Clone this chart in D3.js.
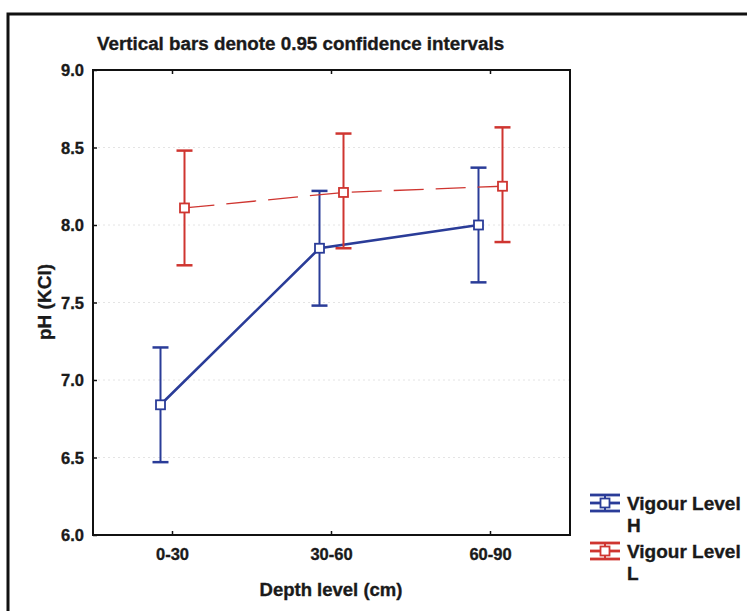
<!DOCTYPE html>
<html>
<head>
<meta charset="utf-8">
<script src="https://cdn.jsdelivr.net/npm/d3@7"></script>
<style>
  html, body { margin: 0; padding: 0; background: #fff; }
  svg { display: block; }
  text { font-family: "Liberation Sans", Arial, sans-serif; font-weight: bold; fill: #1a1a1a; stroke: #1a1a1a; stroke-width: 0.35px; }
</style>
</head>
<body>
<svg id="chart" width="747" height="611"></svg>
<script>
// Depth categories and the two vigour groups
const depths = ["0-30", "30-60", "60-90"];
const groups = ["H", "L"];

// Mean pH (KCl) per depth with 0.95 confidence limits
const meanH  = [6.84, 7.85, 8.00];
const lowerH = [6.47, 7.48, 7.63];
const upperH = [7.21, 8.22, 8.37];

const meanL  = [8.11, 8.21, 8.25];
const lowerL = [7.74, 7.85, 7.89];
const upperL = [8.48, 8.59, 8.63];

const yTicks = [6.0, 6.5, 7.0, 7.5, 8.0, 8.5, 9.0];

const series = [
  { key: groups[0], color: "#2a3c98", mean: meanH, lo: lowerH, hi: upperH, offset: -12, width: 2.6, dash: null },
  { key: groups[1], color: "#cf3530", mean: meanL, lo: lowerL, hi: upperL, offset: 12, width: 1.3, dash: "30,12" }
];

const svg = d3.select("#chart");

// Outer frame (top and left rules)
svg.append("path")
  .attr("d", "M8,611 L8,14 L747,14")
  .attr("fill", "none").attr("stroke", "#111").attr("stroke-width", 3);

const plot = { left: 93, right: 570, top: 70, bottom: 535 };

const x = d3.scaleBand().domain(depths).range([plot.left, plot.right]);
const y = d3.scaleLinear().domain([6, 9]).range([plot.bottom, plot.top]);
const cx = d => x(d) + x.bandwidth() / 2;

// Faint dotted grid
svg.append("g").selectAll("line")
  .data(yTicks.filter(t => t > 6 && t < 9))
  .join("line")
  .attr("x1", plot.left).attr("x2", plot.right)
  .attr("y1", d => y(d)).attr("y2", d => y(d))
  .attr("stroke", "#e4e4e4").attr("stroke-width", 1).attr("stroke-dasharray", "2,3");

// Axes with inward ticks
const yAxis = d3.axisLeft(y).tickValues(yTicks).tickFormat(d3.format(".1f")).tickSizeInner(-4).tickSizeOuter(0).tickPadding(9);
const gy = svg.append("g").attr("transform", `translate(${plot.left},0)`).call(yAxis);
gy.select(".domain").remove();
gy.selectAll("line").attr("stroke", "#111").attr("stroke-width", 1.5);
gy.selectAll("text").style("font-size", "16.5px").style("fill", "#1a1a1a").attr("dy", "0.35em");

const xAxis = d3.axisBottom(x).tickSizeInner(-4).tickSizeOuter(0).tickPadding(13);
const gx = svg.append("g").attr("transform", `translate(0,${plot.bottom})`).call(xAxis);
gx.select(".domain").remove();
gx.selectAll("line").attr("stroke", "#111").attr("stroke-width", 1.5);
gx.selectAll("text").style("font-size", "16.5px").style("fill", "#1a1a1a");

const gxTop = svg.append("g").attr("transform", `translate(0,${plot.top})`)
  .call(d3.axisTop(x).tickSizeInner(-4).tickSizeOuter(0).tickFormat(""));
gxTop.select(".domain").remove();
gxTop.selectAll("line").attr("stroke", "#111").attr("stroke-width", 1.5);

// Plot border
svg.append("rect")
  .attr("x", plot.left).attr("y", plot.top)
  .attr("width", plot.right - plot.left).attr("height", plot.bottom - plot.top)
  .attr("fill", "none").attr("stroke", "#111").attr("stroke-width", 2);

// Series: connecting line, error bars, markers
const capW = 8;
series.forEach(s => {
  const px = i => cx(depths[i]) + s.offset;
  const g = svg.append("g");

  g.append("path")
    .datum(depths.map((d, i) => i))
    .attr("d", d3.line().x(i => px(i)).y(i => y(s.mean[i])))
    .attr("fill", "none").attr("stroke", s.color).attr("stroke-width", s.width)
    .attr("stroke-dasharray", s.dash);

  const bars = g.selectAll(".bar").data(depths.map((d, i) => i)).join("g");
  bars.append("line")
    .attr("x1", i => px(i)).attr("x2", i => px(i))
    .attr("y1", i => y(s.lo[i])).attr("y2", i => y(s.hi[i]))
    .attr("stroke", s.color).attr("stroke-width", 2);
  ["lo", "hi"].forEach(k => {
    bars.append("line")
      .attr("x1", i => px(i) - capW).attr("x2", i => px(i) + capW)
      .attr("y1", i => y(s[k][i])).attr("y2", i => y(s[k][i]))
      .attr("stroke", s.color).attr("stroke-width", 2.5);
  });
  bars.append("rect")
    .attr("x", i => px(i) - 4.5).attr("y", i => y(s.mean[i]) - 4.5)
    .attr("width", 9).attr("height", 9)
    .attr("fill", "#fff").attr("stroke", s.color).attr("stroke-width", 1.8);
});

// Titles
svg.append("text").attr("x", 97).attr("y", 50)
  .style("font-size", "18.8px").text("Vertical bars denote 0.95 confidence intervals");

svg.append("text").attr("x", 331).attr("y", 596).attr("text-anchor", "middle")
  .style("font-size", "18.5px").text("Depth level (cm)");

svg.append("text").attr("transform", "translate(51,302) rotate(-90)").attr("text-anchor", "middle")
  .style("font-size", "19px").text("pH (KCl)");

// Legend
const legend = svg.append("g");
series.forEach((s, k) => {
  const ly = 503 + k * 48;
  const lg = legend.append("g").attr("transform", `translate(605,${ly})`);
  [-8, 0, 8].forEach(dy => {
    lg.append("line").attr("x1", -15).attr("x2", 15)
      .attr("y1", dy).attr("y2", dy).attr("stroke", s.color).attr("stroke-width", 2.8);
  });
  lg.append("line").attr("x1", 0).attr("x2", 0).attr("y1", -8).attr("y2", 8)
    .attr("stroke", s.color).attr("stroke-width", 2);
  lg.append("rect").attr("x", -4.5).attr("y", -4.5).attr("width", 9).attr("height", 9)
    .attr("fill", "#fff").attr("stroke", s.color).attr("stroke-width", 1.8);
  legend.append("text").attr("x", 627).attr("y", ly + 7).style("font-size", "19px").text("Vigour Level");
  legend.append("text").attr("x", 627).attr("y", ly + 29).style("font-size", "19px").text(s.key);
});
</script>
</body>
</html>
